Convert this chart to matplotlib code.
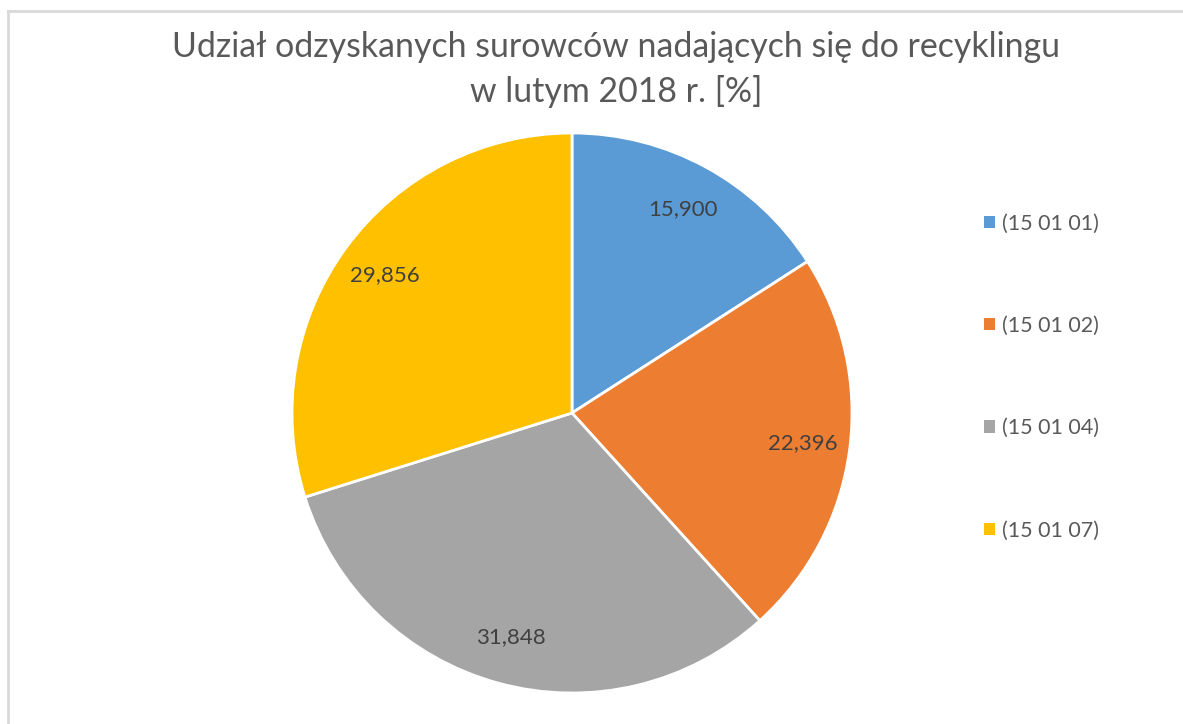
import numpy as np
from matplotlib import pyplot as plt
from matplotlib.lines import Line2D
from matplotlib.patches import Patch

plt.rcParams['font.family'] = ['Lato', 'DejaVu Sans']

categories = ["(15 01 01)", "(15 01 02)", "(15 01 04)", "(15 01 07)"]
values = [15.900, 22.396, 31.848, 29.856]
value_labels = ["15,900", "22,396", "31,848", "29,856"]
colors = ["#5B9BD5", "#ED7D31", "#A5A5A5", "#FFC000"]

W, H = 1183, 724
fig = plt.figure(figsize=(W / 100, H / 100), dpi=100)

# light frame around the chart area (left and top edges visible)
fig.add_artist(Line2D([8 / W, 8 / W], [0, 1 - 11 / H], color="#D9D9D9", lw=2))
fig.add_artist(Line2D([8 / W, 1], [1 - 11 / H, 1 - 11 / H], color="#D9D9D9", lw=2))

fig.text(616 / W, 1 - 47 / H, "Udział odzyskanych surowców nadających się do recyklingu",
         ha="center", va="center", fontsize=24.4, color="#595959")
fig.text(616 / W, 1 - 92 / H, "w lutym 2018 r. [%]",
         ha="center", va="center", fontsize=24.4, color="#595959")

cx, cy, r = 572, H - 413, 280
ax = fig.add_axes([(cx - r) / W, (cy - r) / H, 2 * r / W, 2 * r / H])
wedges, texts = ax.pie(values, colors=colors, startangle=90, counterclock=False,
                       labels=value_labels, labeldistance=0.83,
                       wedgeprops=dict(edgecolor="white", linewidth=2),
                       textprops=dict(fontsize=16, color="#404040"))
for t in texts:
    t.set_ha("center")
    t.set_va("center")
ax.set_xlim(-1, 1)
ax.set_ylim(-1, 1)

handles = [Patch(facecolor=c, edgecolor="none") for c in colors]
fig.legend(handles, categories, loc="upper left", bbox_to_anchor=(973 / W, 1 - 203 / H),
           frameon=False, fontsize=15.5, labelcolor="#595959", labelspacing=3.82,
           handlelength=0.5, handleheight=0.5, handletextpad=0.35, borderpad=0)

plt.savefig("out.png", dpi=100)
